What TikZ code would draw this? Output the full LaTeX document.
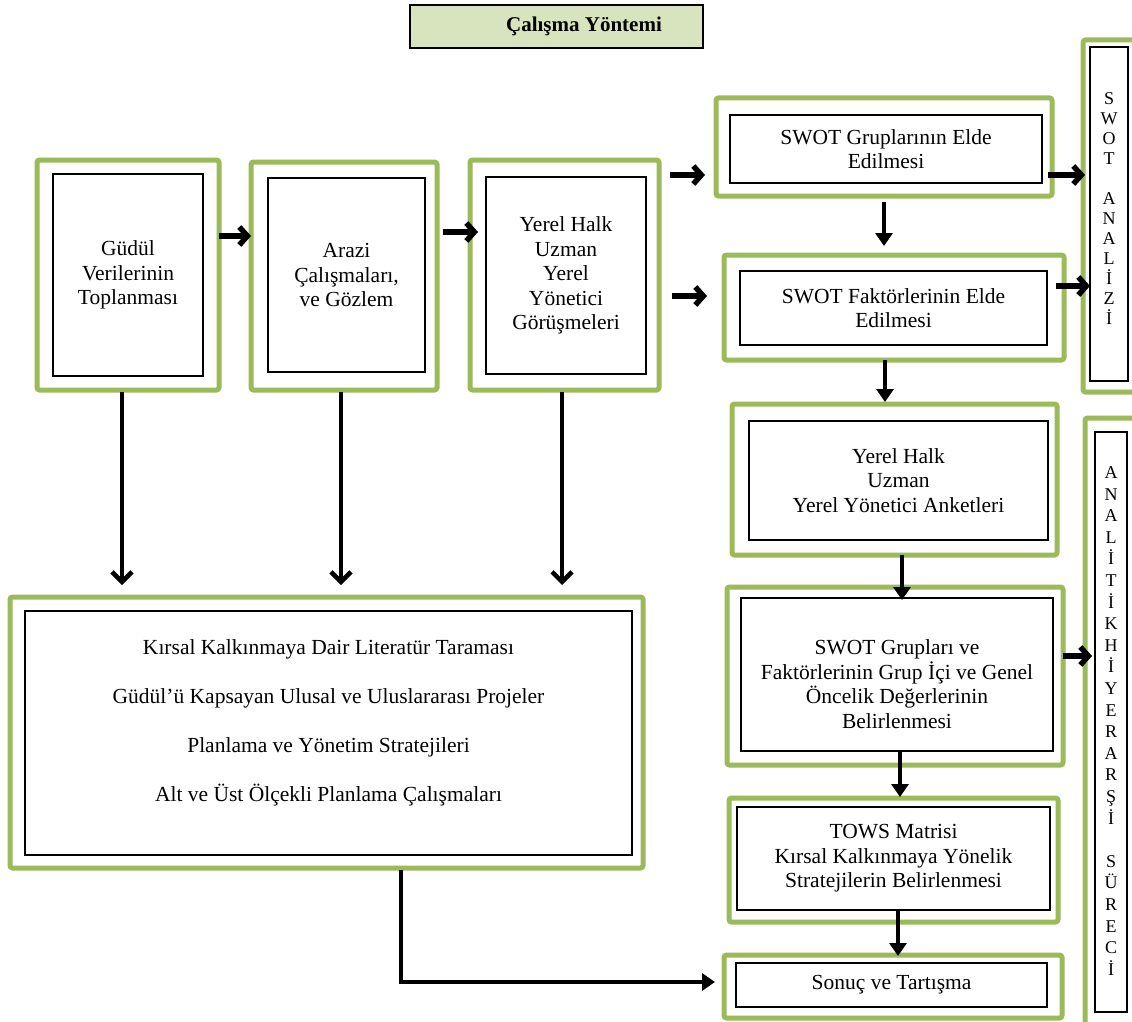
\documentclass[tikz,border=0pt]{standalone}
\usepackage{fontspec}
\setmainfont{Liberation Serif}
\usetikzlibrary{arrows.meta}
\definecolor{grn}{HTML}{9BBB59}
\definecolor{ttl}{HTML}{D7E4BD}
\begin{document}
\begin{tikzpicture}[x=1pt,y=-1pt,
  outerbox/.style={draw=grn, line width=5pt, rounded corners=2.5pt, inner sep=0pt, outer sep=0pt},
  innerbox/.style={draw=black, line width=1.6pt, inner sep=0pt, outer sep=0pt, align=center, font=\fontsize{21.5}{24.5}\selectfont},
  vbox/.style={draw=black, line width=1.6pt, inner sep=0pt, outer sep=0pt},
  vtext/.style={inner sep=0pt, align=center},
  chev/.style={line width=5.5pt, -{Straight Barb[length=8pt,width=18pt]}},
  chevlong/.style={line width=4.5pt, -{Straight Barb[length=10pt,width=20pt]}},
  tri/.style={line width=4.5pt, -{Triangle[length=13pt,width=17pt]}}
]
\clip (0,0) rectangle (1132,1022);
\fill[white] (0,0) rectangle (1132,1022);

% title
\node[draw=black, line width=1.6pt, fill=ttl, minimum width=293pt, minimum height=43pt, inner sep=0pt,
      font=\bfseries\fontsize{21}{24}\selectfont] (title) at (556.5,26.5) {\hspace*{55pt}Çalışma Yöntemi};

% left column boxes
\node[outerbox, minimum width=182pt, minimum height=230pt] (b1o) at (128,275) {};
\node[innerbox, minimum width=150pt, minimum height=202pt] (b1) at (128,275) {Güdül\\Verilerinin\\Toplanması};

\node[outerbox, minimum width=186pt, minimum height=228pt] (b2o) at (344,276) {};
\node[innerbox, minimum width=157pt, minimum height=194pt] (b2) at (346.5,275) {Arazi\\Çalışmaları,\\ve Gözlem};

\node[outerbox, minimum width=189pt, minimum height=230pt] (b3o) at (564.5,275) {};
\node[innerbox, minimum width=160pt, minimum height=197pt] (b3) at (566,275.5) {Yerel Halk\\Uzman\\Yerel\\Yönetici\\Görüşmeleri};

% big box
\node[outerbox, minimum width=633pt, minimum height=271pt] (bigo) at (326.5,732.5) {};
\node[innerbox, minimum width=607pt, minimum height=244pt, font=\fontsize{21.5}{49}\selectfont] (big) at (328.5,733)
  {Kırsal Kalkınmaya Dair Literatür Taraması\\Güdül’ü Kapsayan Ulusal ve Uluslararası Projeler\\Planlama ve Yönetim Stratejileri\\Alt ve Üst Ölçekli Planlama Çalışmaları\\[-25pt]};

% right column
\node[outerbox, minimum width=336pt, minimum height=98pt] (s1o) at (884,147) {};
\node[innerbox, minimum width=312pt, minimum height=68pt] (s1) at (886,149) {SWOT Gruplarının Elde\\Edilmesi};

\node[outerbox, minimum width=340pt, minimum height=105pt] (s2o) at (894,307.5) {};
\node[innerbox, minimum width=307pt, minimum height=74pt] (s2) at (893.5,308) {SWOT Faktörlerinin Elde\\Edilmesi};

\node[outerbox, minimum width=325pt, minimum height=151pt] (ano) at (894.5,479.5) {};
\node[innerbox, minimum width=299pt, minimum height=119pt] (an) at (898.5,480.5) {Yerel Halk\\Uzman\\Yerel Yönetici Anketleri};

\node[outerbox, minimum width=336pt, minimum height=178pt] (sgo) at (895,676) {};
\node[innerbox, minimum width=312pt, minimum height=153pt] (sg) at (897,674.5) {\\[9.5pt]SWOT Grupları ve\\Faktörlerinin Grup İçi ve Genel\\Öncelik Değerlerinin\\Belirlenmesi};

\node[outerbox, minimum width=329pt, minimum height=124pt] (two) at (893.5,860) {};
\node[innerbox, minimum width=313pt, minimum height=103pt] (tw) at (893.5,858.5) {TOWS Matrisi\\Kırsal Kalkınmaya Yönelik\\Stratejilerin Belirlenmesi};

\node[outerbox, minimum width=338pt, minimum height=63pt] (sno) at (893,986.5) {};
\node[innerbox, minimum width=311pt, minimum height=44pt] (sn) at (891.5,985) {Sonuç ve Tartışma};

% vertical side boxes
\node[outerbox, minimum width=54pt, minimum height=352pt] (sao) at (1110,216) {};
\node[vbox, minimum width=38pt, minimum height=334pt] (sa) at (1109,214) {};
\node[vtext, font=\fontsize{18}{20}\selectfont] (satext) at (1109,209)
  {S\\W\\O\\T\\[20pt]A\\N\\A\\L\\İ\\Z\\İ};

\node[outerbox, minimum width=52pt, minimum height=608pt] (ahso) at (1111,722) {};
\node[vbox, minimum width=32pt, minimum height=580pt] (ahs) at (1111,722) {};
\node[vtext, font=\fontsize{18}{21.6}\selectfont] (ahstext) at (1111,721)
  {A\\N\\A\\L\\İ\\T\\İ\\K\\H\\İ\\Y\\E\\R\\A\\R\\Ş\\İ\\[21.6pt]S\\Ü\\R\\E\\C\\İ};

% arrows left row
\draw[chev] ([yshift=39pt]b1o.east) -- ([yshift=39pt]b1o.east -| b2o.west);
\draw[chev] ([xshift=6pt,yshift=44pt]b2o.east) -- ++(35,0);
\draw[chev] ([xshift=11pt,yshift=100pt]b3o.east) -- ([xshift=-11pt,yshift=-28pt]s1o.west);
\draw[chev] ([xshift=13pt,yshift=-21pt]b3o.east) -- ([xshift=-17pt,yshift=11.5pt]s2o.west);

% long verticals
\draw[chevlong] ([xshift=-6pt,yshift=-2pt]b1o.south) -- ++(0,193);
\draw[chevlong] ([xshift=-3pt,yshift=-2pt]b2o.south) -- ++(0,193);
\draw[chevlong] ([xshift=-2.5pt,yshift=-2pt]b3o.south) -- ++(0,193);

% right column arrows
\draw[tri] ([yshift=-6pt]s1o.south) -- ++(0,44);
\draw[chev] ([xshift=-4pt,yshift=-28pt]s1o.east) -- ([xshift=2pt,yshift=-28pt]s1o.east -| sao.west);
\draw[chev] ([xshift=-8pt,yshift=21.5pt]s2o.east) -- ([xshift=7pt,yshift=21.5pt]s2o.east -| sao.west);
\draw[tri] ([xshift=-9pt]s2o.south) -- ++(0,42);
\draw[tri] ([xshift=7.5pt]ano.south) -- ++(0,45);
\draw[chev] ([yshift=20pt]sgo.east) -- ([xshift=7pt,yshift=20pt]sgo.east -| ahso.west);
\draw[tri] ([xshift=3pt]sg.south) -- ++(0,46);
\draw[tri] ([xshift=4.5pt]tw.south) -- ++(0,46);

% bottom elbow
\draw[tri] ([xshift=74.5pt,yshift=-2pt]bigo.south) |- ([xshift=-9pt,yshift=4.5pt]sno.west);
\end{tikzpicture}
\end{document}
